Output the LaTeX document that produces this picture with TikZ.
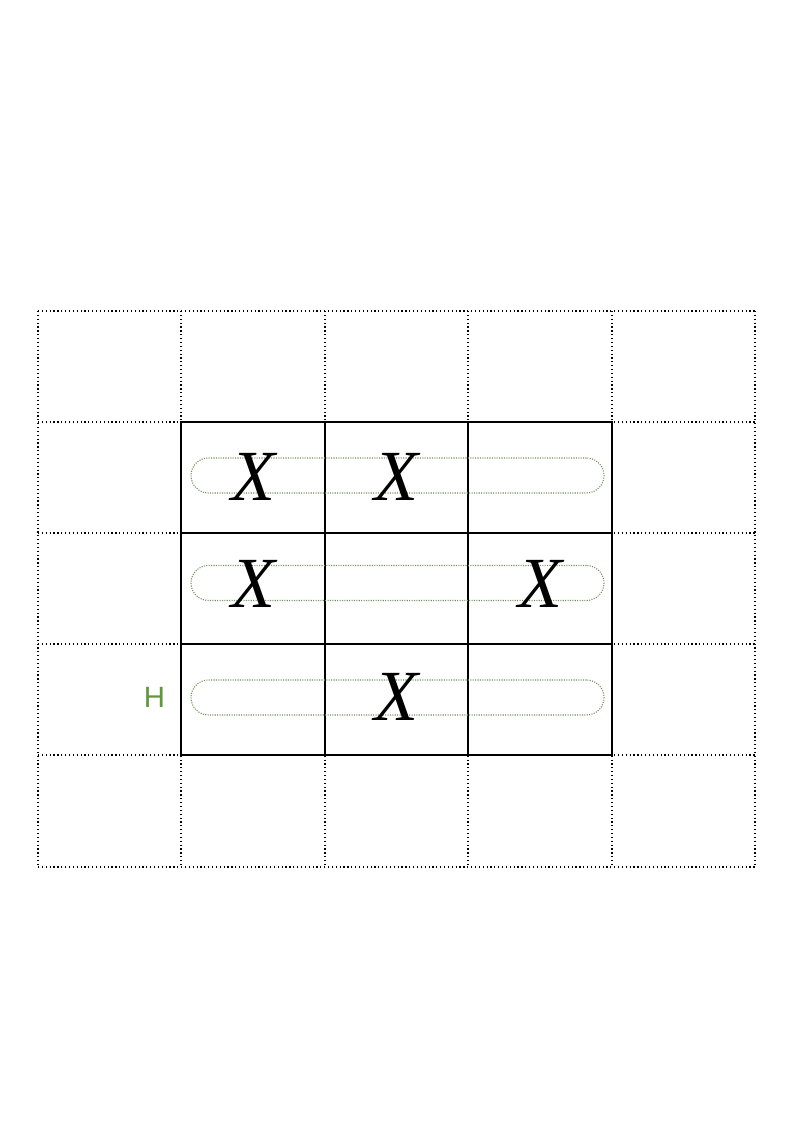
\documentclass[tikz,border=0pt]{standalone}
\usepackage{fontspec}
\newfontfamily\hfont{Liberation Sans}
\newfontfamily\xfont{Liberation Serif}
\definecolor{hgreen}{RGB}{96,150,64}
\definecolor{pillc}{RGB}{110,145,90}
\tikzset{
  outerline/.style={line width=0.9pt, dotted, black},
  innerline/.style={line width=0.85pt, black},
  pill/.style={draw=pillc, densely dotted, line width=0.8pt, rounded corners=13.1pt, minimum width=309.75pt, minimum height=26.25pt, inner sep=0pt},
  xmark/.style={font=\xfont\itshape\fontsize{54}{60}\selectfont, inner sep=0pt, text=black},
  hlabel/.style={font=\hfont\fontsize{22}{26}\selectfont, text=hgreen, inner sep=0pt}
}
\begin{document}
\begin{tikzpicture}[x=0.75pt,y=-0.75pt]
\useasboundingbox (0,0) rectangle (794,1123);
% outer dotted grid
\foreach \y in {311,422,533,644,755,867} \draw[outerline] (38,\y) -- (755,\y);
\foreach \x in {38,181,325,468,612,755} \draw[outerline] (\x,311) -- (\x,867);
% inner solid 3x3
\draw[innerline] (181,422) rectangle (612,755);
\foreach \y in {533,644} \draw[innerline] (181,\y) -- (612,\y);
\foreach \x in {325,468} \draw[innerline] (\x,422) -- (\x,755);
% pills
\node[pill] (p1) at (397.5,475.5) {};
\node[pill] (p2) at (397.5,583) {};
\node[pill] (p3) at (397.5,697.5) {};
% X marks
\node[xmark] (x11) at (253,477) {X};
\node[xmark] (x12) at (396.5,477) {X};
\node[xmark] (x21) at (253,584) {X};
\node[xmark] (x23) at (540,584) {X};
\node[xmark] (x32) at (396.5,697) {X};
% label
\node[hlabel] (h) at (154.5,697) {H};
\end{tikzpicture}
\end{document}
